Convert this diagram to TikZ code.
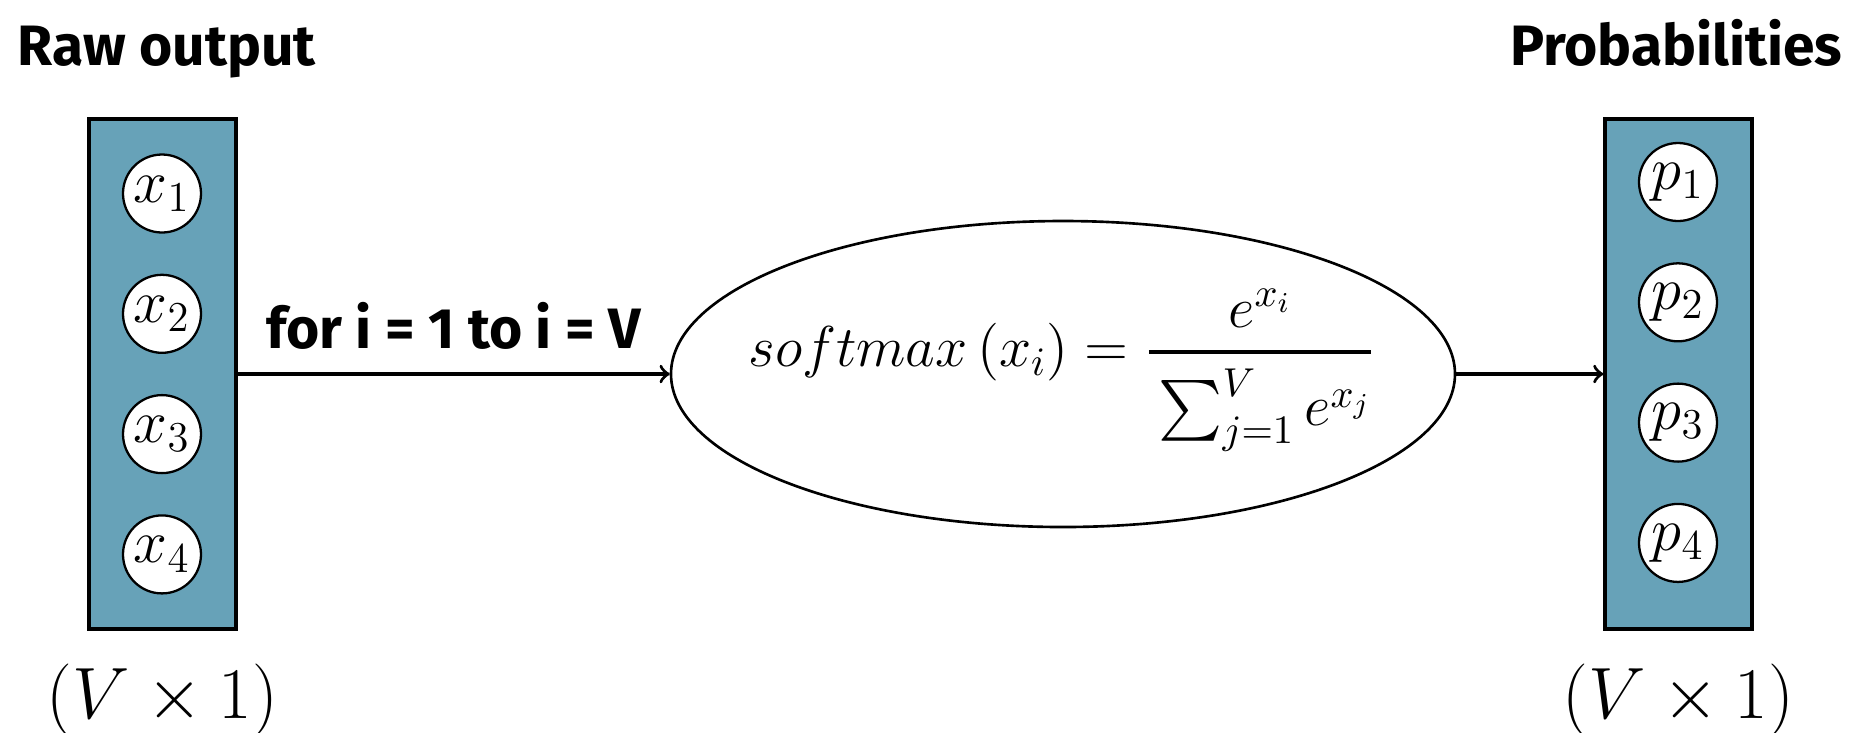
\RequirePackage{fix-cm}
\documentclass[tikz,border=0pt]{standalone}
\usepackage{amsmath}
\usepackage[no-math]{fontspec}
\newfontfamily\headfont{Fira Sans}
\usetikzlibrary{backgrounds,positioning,shapes.geometric}
\definecolor{xteal}{RGB}{103,162,184}

\begin{document}
\begin{tikzpicture}[
  colbox/.style={draw, rectangle, line width=0.95pt, fill=xteal, minimum width=1.47cm, minimum height=5.10cm, inner sep=0pt},
  unit/.style={draw, circle, line width=0.65pt, fill=white, minimum size=0.78cm, inner sep=0pt, font=\fontsize{17.3}{17}\selectfont},
  head/.style={inner sep=0pt, font=\headfont\bfseries\fontsize{16.2}{16}\selectfont},
  dimlbl/.style={inner sep=0pt, font=\fontsize{20.7}{21}\selectfont},
  flow/.style={->, line width=0.95pt}]
\useasboundingbox (0,0) rectangle (18.58,-7.32);
\def \n {1.203}
\node[head, anchor=base west] at (0.17, -0.65) (rawlbl) {Raw output};
\node[head, anchor=base east] at (18.43, -0.65) (problbl) {Probabilities};
\node[colbox] at (1.625, -3.74) (xcol) {};
\node[unit] at (1.62, -1.935) (x1) {$x_1$};
\node[unit] at (1.62, -1.935-1*\n) (x2) {$x_2$};
\node[unit] at (1.62, -1.935-2*\n) (x3) {$x_3$};
\node[unit] at (1.62, -1.935-3*\n) (x4) {$x_4$};
\node[dimlbl, below=0.33cm of xcol] (xdim) {$(V \times 1)$};
\node[draw, ellipse, line width=0.75pt, minimum width=7.84cm, minimum height=3.06cm, inner sep=0pt] at (10.63, -3.74) (smax) {};
\node[inner sep=0pt, anchor=base, font=\fontsize{16.4}{18}\selectfont] at (10.62, -3.665) (formula) {$softmax\left(x_i\right) = \genfrac{}{}{1.1pt}{0}{e^{x_i}\rule[-3pt]{0pt}{3pt}}{\rule{0pt}{17pt}\sum_{j=1}^{V} e^{x_j}}$};
\node[colbox] at (16.785, -3.74) (pcol) {};
\node[unit] at (16.78, -1.82) (p1) {$p_1$};
\node[unit] at (16.78, -1.82-1*\n) (p2) {$p_2$};
\node[unit] at (16.78, -1.82-2*\n) (p3) {$p_3$};
\node[unit] at (16.78, -1.82-3*\n) (p4) {$p_4$};
\node[dimlbl, below=0.33cm of pcol] (pdim) {$(V \times 1)$};
\draw[flow] (xcol) -- node[head, midway, above=0.23cm] (loop) {for i = 1 to i = V} (smax);
\draw[flow] (smax) -- (pcol);
\end{tikzpicture}
\end{document}
